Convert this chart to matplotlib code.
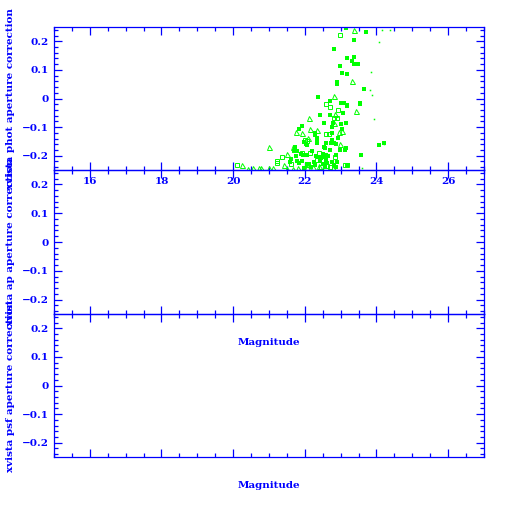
import numpy as np
import matplotlib
matplotlib.use('Agg')
import matplotlib.pyplot as plt
from matplotlib.ticker import MultipleLocator
from matplotlib.font_manager import FontProperties

# 数据
# 实心方块
fs_x = [23.14, 23.72, 23.38, 22.81, 23.19, 23.36, 23.33, 23.38, 23.47, 22.98,
        23.03, 23.19, 22.90, 22.90, 23.64, 22.38, 22.69, 23.01, 23.10, 23.19,
        23.19, 23.53, 23.53, 23.06, 22.42, 22.69, 22.53, 23.16, 22.79, 23.01,
        22.75, 23.04, 21.83, 21.91, 22.29, 22.29, 22.75, 22.93, 22.33, 22.33,
        22.33, 22.53, 22.56, 22.81, 22.86, 23.11, 23.14, 22.72, 22.75, 21.71,
        21.78, 21.88, 21.94, 22.06, 21.74, 22.31, 22.36, 22.50, 22.60, 22.64,
        22.87, 23.57, 24.07, 21.62, 21.59, 21.77, 21.85, 22.05, 22.25, 22.29,
        22.43, 22.50, 22.60, 22.62, 22.77, 22.81, 22.90, 21.98, 22.03, 22.06,
        21.73, 22.60, 22.97, 22.46, 22.55, 21.99, 22.18, 22.55, 22.86, 23.20,
        22.12, 21.93, 22.70, 22.20, 24.20]
fs_y = [0.247, 0.232, 0.205, 0.174, 0.140, 0.144, 0.130, 0.122, 0.120, 0.115,
        0.088, 0.087, 0.058, 0.052, 0.034, 0.006, -0.007, -0.014, -0.014, -0.022,
        -0.026, -0.014, -0.020, -0.050, -0.056, -0.056, -0.085, -0.085, -0.087, -0.089,
        -0.100, -0.107, -0.105, -0.095, -0.120, -0.126, -0.120, -0.138, -0.138, -0.147,
        -0.156, -0.171, -0.174, -0.155, -0.159, -0.179, -0.172, -0.155, -0.144, -0.184,
        -0.182, -0.194, -0.197, -0.196, -0.202, -0.200, -0.203, -0.193, -0.196, -0.200,
        -0.199, -0.197, -0.161, -0.213, -0.222, -0.218, -0.225, -0.228, -0.221, -0.232,
        -0.219, -0.229, -0.214, -0.227, -0.221, -0.231, -0.223, -0.151, -0.158, -0.164,
        -0.170, -0.154, -0.179, -0.208, -0.206, -0.243, -0.238, -0.238, -0.240, -0.232,
        -0.228, -0.220, -0.180, -0.185, -0.156]

# 空心方块
os_x = [22.98, 22.60, 22.71, 22.93, 22.81, 22.90, 20.10, 21.21, 22.58, 22.68,
        22.06, 22.00, 21.91, 22.15, 22.40, 22.70, 23.11, 23.19, 21.37, 22.10,
        22.45, 22.62, 21.22, 21.60, 22.35, 22.85]
os_y = [0.221, -0.020, -0.028, -0.039, -0.068, -0.068, -0.232, -0.218, -0.125, -0.125,
        -0.148, -0.144, -0.190, -0.190, -0.190, -0.240, -0.232, -0.233, -0.203, -0.231,
        -0.240, -0.235, -0.226, -0.230, -0.215, -0.205]

# 空心三角
tri_x = [23.37, 23.31, 22.81, 22.85, 22.12, 23.44, 22.81, 22.15, 22.35, 21.74,
         22.96, 22.08, 21.01, 21.51, 21.41, 20.26, 20.42, 20.56, 20.72, 20.78,
         20.99, 21.12, 22.98, 21.68, 22.22, 22.40, 22.80, 21.82, 21.66, 23.03,
         21.92, 21.50, 22.05]
tri_y = [0.238, 0.060, 0.010, -0.055, -0.068, -0.042, -0.085, -0.107, -0.109, -0.117,
         -0.116, -0.138, -0.171, -0.194, -0.232, -0.232, -0.245, -0.242, -0.242, -0.242,
         -0.242, -0.242, -0.160, -0.168, -0.238, -0.236, -0.243, -0.243, -0.247, -0.115,
         -0.120, -0.245, -0.241]

# 小点
dot_x = [24.15, 24.38, 24.07, 23.86, 23.83, 23.87, 23.92, 23.59, 24.21]
dot_y = [0.238, 0.240, 0.196, 0.094, 0.028, 0.012, -0.071, -0.243, -0.160]

ylabels = ['xvista phot aperture correction',
           'xvista ap aperture correction',
           'xvista psf aperture correction']
xlabel = 'Magnitude'
ytick_vals = [-0.2, -0.1, 0, 0.1, 0.2]
ytick_text = ['\u22120.2', '\u22120.1', '0', '0.1', '0.2']

blue = '#0000ff'
green = '#00ff00'
fp = FontProperties(family='DejaVu Serif', weight='bold', size=7.5)

# 刻度样式
plt.rcParams.update({
    'xtick.direction': 'in', 'ytick.direction': 'in',
    'xtick.top': True, 'ytick.right': True,
    'xtick.major.size': 5.5, 'ytick.major.size': 5.5,
    'xtick.minor.size': 3, 'ytick.minor.size': 3,
    'xtick.major.width': 0.9, 'ytick.major.width': 0.9,
    'xtick.minor.width': 0.9, 'ytick.minor.width': 0.9,
    'xtick.color': blue, 'ytick.color': blue,
    'xtick.labelcolor': blue, 'ytick.labelcolor': blue,
    'xtick.minor.visible': True, 'ytick.minor.visible': True,
})

fig = plt.figure(figsize=(5.12, 5.12), dpi=100)
fig.patch.set_facecolor('white')

# 像素框
left, right = 54, 484
edges = [27, 170, 314, 457]

axes = []
for i in range(3):
    top, bot = edges[i], edges[i + 1]
    ax = fig.add_axes([left / 512, 1 - bot / 512, (right - left) / 512, (bot - top) / 512])
    ax.patch.set_visible(False)
    ax.set_xlim(15, 27)
    ax.set_ylim(-0.25, 0.25)
    ax.xaxis.set_major_locator(MultipleLocator(2))
    ax.xaxis.set_minor_locator(MultipleLocator(0.5))
    ax.set_yticks(ytick_vals)
    ax.set_yticklabels(ytick_text)
    ax.yaxis.set_minor_locator(MultipleLocator(0.02))
    ax.tick_params(axis='y', which='major', pad=4)
    ax.tick_params(axis='x', which='major', pad=5, labelbottom=(i == 0))
    for s in ax.spines.values():
        s.set_color(blue)
        s.set_linewidth(0.9)
    for lab in ax.get_xticklabels() + ax.get_yticklabels():
        lab.set_fontproperties(fp)
    ax.set_ylabel(ylabels[i], color=blue, fontproperties=fp)
    ax.yaxis.set_label_coords(-39 / (right - left), 0.5)
    if i > 0:
        ax.set_xlabel(xlabel, color=blue, fontproperties=fp, labelpad=14)
    axes.append(ax)

ax = axes[0]
ax.plot(fs_x, fs_y, 's', color=green, markersize=2.3, markeredgewidth=0,
        antialiased=False)
ax.plot(os_x, os_y, 's', color=green, markerfacecolor='none', markersize=3.2,
        markeredgewidth=0.7, antialiased=False)
ax.plot(tri_x, tri_y, '^', color=green, markerfacecolor='none', markersize=3.6,
        markeredgewidth=0.7, antialiased=False)
ax.plot(dot_x, dot_y, 's', color=green, markersize=1.1, markeredgewidth=0,
        antialiased=False)

fig.savefig('out.png', dpi=100)
